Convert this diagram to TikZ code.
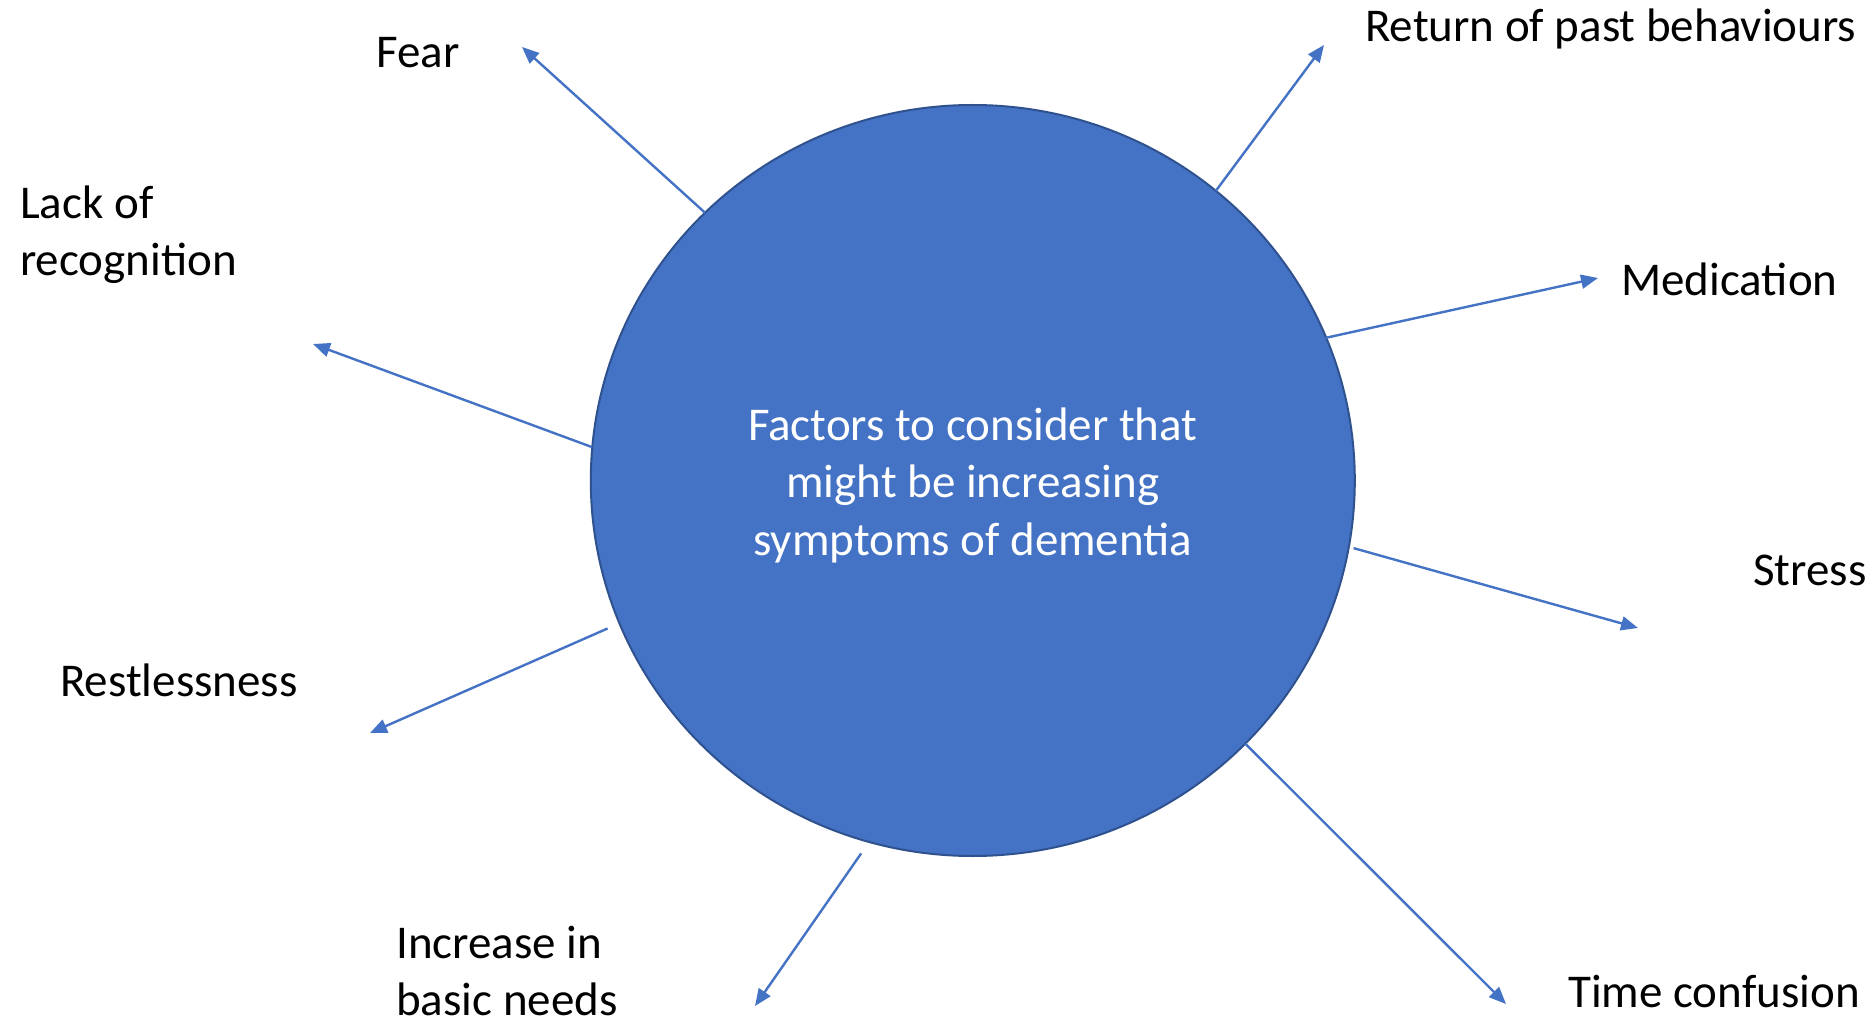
\documentclass[tikz,border=0pt]{standalone}
\usepackage{fontspec}
\setmainfont{Carlito}
\usetikzlibrary{arrows.meta,shapes.geometric}
\definecolor{hubfill}{HTML}{4472C4}
\definecolor{hubline}{HTML}{2F528F}
\definecolor{spokeblue}{HTML}{4472C4}
\begin{document}
\begin{tikzpicture}[x=1pt,y=-1pt,
  hub/.style={ellipse, fill=hubfill, draw=hubline, line width=2pt,
    minimum width=764pt, minimum height=751pt, inner sep=0pt, outer sep=0pt},
  hubtext/.style={text=white, align=center, inner sep=0pt,
    font=\fontsize{47}{57.5}\selectfont},
  factor/.style={anchor=base west, inner sep=0pt, align=left,
    font=\fontsize{47}{57}\selectfont},
  spoke/.style={draw=spokeblue, line width=2.4pt,
    -{Triangle[length=17pt,width=14pt]}}
]
\useasboundingbox[fill=white] (0,0) rectangle (1875,1024);

% central circle and its caption
\node[hub] (hub) at (972.8,480.5) {};
\node[hubtext] (caption) at (972.8,485) {Factors to consider that\\might be increasing\\symptoms of dementia};

% factor labels (multi-line ones are placed by their last baseline)
\node[factor] (fear)     at (376,68)    {Fear};
\node[factor] (lack)     at (20,276)    {Lack of\\recognition};
\node[factor] (return)   at (1365,42)   {Return of past behaviours};
\node[factor] (meds)     at (1621,296)  {Medication};
\node[factor] (stress)   at (1753,585)  {Stress};
\node[factor] (restless) at (60,696)    {Restlessness};
\node[factor] (needs)    at (396,1015)  {Increase in\\basic needs};
\node[factor] (time)     at (1568,1007) {Time confusion};

% arrow ends
\coordinate (fearEnd)     at (522,47);
\coordinate (returnEnd)   at (1324,45);
\coordinate (medsEnd)     at (1598,278);
\coordinate (lackEnd)     at (313,344);
\coordinate (stressEnd)   at (1638,628);
\coordinate (restlessEnd) at (370,733);
\coordinate (needsEnd)    at (755,1006);
\coordinate (timeEnd)     at (1506,1004);

% spokes
\draw[spoke] (hub.135.5) -- (fearEnd);
\draw[spoke] (hub.50.3) -- (returnEnd);
\draw[spoke] (hub.22.4) -- (medsEnd);
\draw[spoke] (hub.175.7) -- (lackEnd);
\draw[spoke, shorten <=5pt] (hub.-10.3) -- (stressEnd);
\draw[spoke, shorten <=13pt] (hub.202.2) -- (restlessEnd);
\draw[spoke, shorten <=14pt] (hub.254.9) -- (needsEnd);
\draw[spoke] (hub.-44.5) -- (timeEnd);
\end{tikzpicture}
\end{document}
